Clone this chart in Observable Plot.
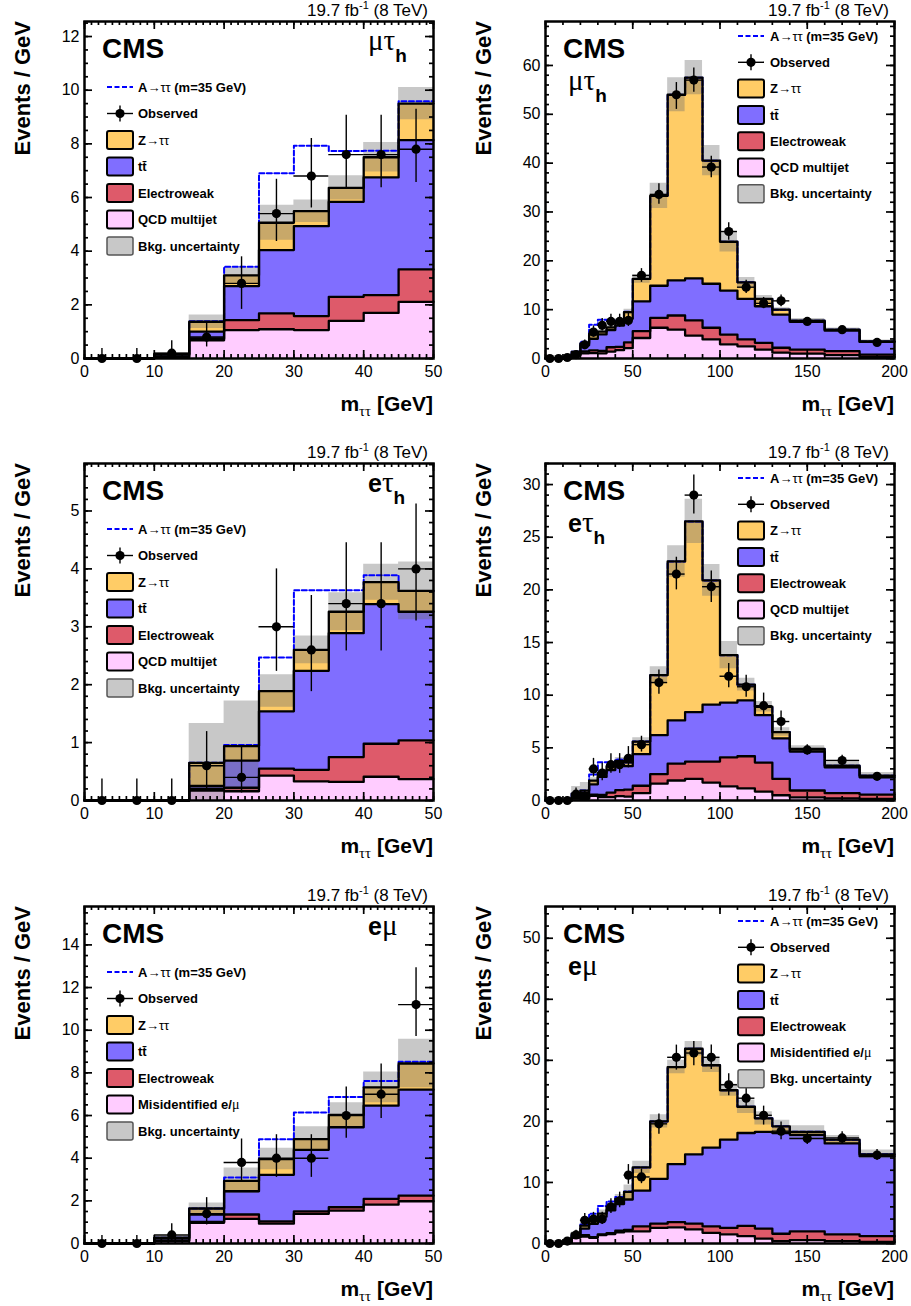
<!DOCTYPE html>
<html>
<head>
<meta charset="utf-8">
<script src="https://cdn.jsdelivr.net/npm/d3@7"></script>
<script src="https://cdn.jsdelivr.net/npm/@observablehq/plot@0.6"></script>
<style>
  html, body { margin: 0; padding: 0; background: #fff; }
  #wrap { position: relative; width: 911px; height: 1306px; background: #fff; }
  .panel { position: absolute; }
</style>
</head>
<body>
<div id="wrap"></div>
<script>
// ---------------- DATA ----------------
// bin edges in GeV (22 bins; the 0-50 GeV panels use the first 10)
const binEdges = [0,5,10,15,20,25,30,35,40,45,50,60,70,80,90,100,110,120,130,140,160,180,200];

// mu tau_h channel (events / GeV per component)
const mtQCD   = [0,0,0.04,0.68,1.06,1.09,1.06,1.40,1.70,2.11, 4.2,6.3,5.9,4.7,3.9,2.9,2.5,1.8,1.2,1.0,0.7,0.35];
const mtEWK   = [0,0,0.04,0.07,0.37,0.59,0.52,0.90,0.66,1.21, 1.4,2.0,2.9,3.1,2.4,2.0,1.4,1.4,1.0,0.8,0.8,0.45];
const mtTT    = [0,0,0.07,0.25,1.27,2.36,3.35,3.54,4.39,4.82, 6.1,6.6,7.2,8.6,9.0,9.0,8.3,7.5,6.8,5.7,4.2,2.6];
const mtZTT   = [0,0,0.02,0.37,0.40,1.02,0.56,0.52,0.75,1.36, 4.6,18.4,38.0,41.1,25.2,10.0,3.4,1.5,1.0,0.25,0.2,0.1];
const mtUnc   = [0,0,0.03,0.25,0.30,0.65,0.42,0.45,0.55,0.60, 0.9,2.6,3.5,3.5,3.1,2.1,1.0,0.7,0.4,0.45,0.35,0.3];
const mtSig   = [0,0,0,0.02,0.32,1.84,2.44,1.37,0.24,0.09, 0,0,0,0,0,0,0,0,0,0,0,0];
const mtObs   = [0,0,0.2,0.8,2.8,5.4,6.8,7.6,7.6,7.8, 17.0,33.6,54.0,57.0,39.2,26.0,14.6,11.3,11.8,7.6,5.9,3.3];
const mtObsLo = [0,0,0.03,0.43,1.83,4.36,5.61,6.36,6.36,6.56, 15.6,31.6,51.0,54.5,37.0,24.2,13.3,10.2,10.6,7.0,5.4,2.9];
const mtObsHi = [0.37,0.37,0.66,1.33,3.79,6.68,8.2,9.07,9.07,9.29, 18.4,35.8,56.5,59.5,41.4,27.8,16.0,12.5,13.0,8.2,6.4,3.7];

// e tau_h channel
const etQCD   = [0,0,0,0.17,0.16,0.43,0.33,0.32,0.41,0.37, 0.7,1.6,1.9,2.05,1.7,1.35,1.15,0.85,0.5,0.3,0.2,0.15];
const etEWK   = [0,0,0,0.03,0.06,0.12,0.20,0.43,0.57,0.67, 0.7,0.9,1.6,1.65,2.0,2.75,3.05,2.75,1.55,0.65,0.5,0.4];
const etTT    = [0,0,0,0.05,0.47,0.99,1.71,2.14,2.41,2.22, 3.0,3.7,4.1,4.7,5.4,5.2,5.3,4.5,3.85,3.7,2.45,1.65];
const etZTT   = [0,0,0,0.40,0.25,0.35,0.36,0.37,0.38,0.36, 1.2,5.7,15.1,18.1,11.8,4.5,1.5,0.8,0.6,0.25,0.15,0.15];
const etUnc   = [0,0,0,0.68,0.78,0.28,0.24,0.33,0.31,0.50, 0.35,0.8,1.5,2.1,1.5,1.3,0.6,0.5,0.4,0.3,0.3,0.3];
const etSig   = [0,0,0,0,0.02,0.58,1.03,0.37,0.12,0, 0,0,0,0,0,0,0,0,0,0,0,0];
const etObs   = [0,0,0,0.6,0.4,3.0,2.6,3.4,3.4,4.0, 5.3,11.2,21.5,29.0,20.3,11.8,10.8,9.0,7.5,4.8,3.8,2.3];
const etObsLo = [0,0,0,0.2,0.13,2.23,1.88,2.58,2.58,3.1, 4.6,10.1,20.0,27.2,18.8,10.7,9.8,8.0,6.6,4.3,3.3,2.0];
const etObsHi = [0.37,0.37,0.37,1.19,0.92,4.0,3.54,4.45,4.45,5.12, 6.1,12.4,23.1,30.9,21.8,13.0,11.9,10.2,8.5,5.3,4.3,2.6];

// e mu channel (4th component = misidentified e/mu)
const emMis   = [0,0,0.1,0.97,1.15,0.93,1.39,1.54,1.82,1.98, 2.0,2.55,2.65,2.3,1.75,1.5,1.2,0.8,0.4,0.55,0.4,0.25];
const emEWK   = [0,0,0.05,0.04,0.21,0.11,0.12,0.16,0.27,0.26, 0.8,0.7,0.85,0.95,1.05,1.05,1.7,1.65,1.2,1.45,1.1,0.95];
const emTT    = [0,0,0.1,0.35,1.09,2.18,2.88,3.75,4.37,4.97, 5.85,7.35,9.5,11.35,12.9,14.45,15.2,15.85,16.5,15.8,14.9,13.1];
const emZTT   = [0,0,0.02,0.28,0.49,0.74,0.50,0.58,0.86,1.23, 3.81,9.4,15.9,17.3,13.5,8.1,4.3,2.2,1.1,0.5,0.6,0.3];
const emUnc   = [0,0,0.08,0.26,0.60,0.50,0.58,0.57,0.72,1.14, 1.0,1.1,1.1,1.2,1.2,1.0,1.1,1.1,1.0,1.0,0.7,0.7];
const emSig   = [0,0,0,0,0.16,0.93,1.25,0.84,0.30,0.08, 0,0,0,0,0,0,0,0,0,0,0,0];
const emObs   = [0,0,0.4,1.4,3.8,4.0,4.0,6.0,7.0,11.2, 10.9,19.6,30.5,31.2,30.5,26.0,23.8,21.0,18.4,17.2,17.3,14.5];
const emObsLo = [0,0,0.07,0.87,2.91,3.1,3.1,4.93,5.86,9.7, 9.8,17.9,28.4,29.1,28.5,24.2,22.1,19.4,17.0,16.2,16.3,13.6];
const emObsHi = [0.37,0.37,0.93,2.15,4.9,5.1,5.1,7.34,8.41,12.93, 12.2,21.2,32.5,33.1,32.5,27.8,25.5,22.5,19.9,18.2,18.3,15.4];

// ---------------- STYLE / LAYOUT ----------------
const SANS = "'Liberation Sans', Arial, Helvetica, sans-serif";
const SERIF = "'Liberation Serif', 'DejaVu Serif', serif";
const colors = {bkg4: "#ffccff", ewk: "#de5a6a", tt: "#806eff", ztt: "#ffcc66", band: "#6f6f6f", sig: "#0000ff"};

const channels = {
  mt: {bkg4: mtQCD, ewk: mtEWK, tt: mtTT, ztt: mtZTT, unc: mtUnc, sig: mtSig, obs: mtObs, obsLo: mtObsLo, obsHi: mtObsHi,
       label: [["μτ","greek"],["h","sub"]], bkg4Label: [["QCD multijet","b"]]},
  et: {bkg4: etQCD, ewk: etEWK, tt: etTT, ztt: etZTT, unc: etUnc, sig: etSig, obs: etObs, obsLo: etObsLo, obsHi: etObsHi,
       label: [["e","bold"],["τ","greek"],["h","sub"]], bkg4Label: [["QCD multijet","b"]]},
  em: {bkg4: emMis, ewk: emEWK, tt: emTT, ztt: emZTT, unc: emUnc, sig: emSig, obs: emObs, obsLo: emObsLo, obsHi: emObsHi,
       label: [["e","bold"],["μ","greek"]], bkg4Label: [["Misidentified e/","b"],["μ","g"]]}
};

const panels = [
  {ch:"mt", side:"left",  row:0, nb:10, xmax:50,  xMaj:10, xMin:1,  ymax:12.56, yMaj:2,  yMin:0.5},
  {ch:"mt", side:"right", row:0, nb:22, xmax:200, xMaj:50, xMin:10, ymax:69,    yMaj:10, yMin:2},
  {ch:"et", side:"left",  row:1, nb:10, xmax:50,  xMaj:10, xMin:1,  ymax:5.82,  yMaj:1,  yMin:0.2},
  {ch:"et", side:"right", row:1, nb:22, xmax:200, xMaj:50, xMin:10, ymax:32,    yMaj:5,  yMin:1},
  {ch:"em", side:"left",  row:2, nb:10, xmax:50,  xMaj:10, xMin:1,  ymax:15.8,  yMaj:2,  yMin:0.5},
  {ch:"em", side:"right", row:2, nb:22, xmax:200, xMaj:50, xMin:10, ymax:55.2,  yMaj:10, yMin:2}
];
const rowTops = [0, 442, 885];

function tickValues(max, step) {
  const n = Math.floor(max / step + 1e-6);
  return d3.range(n + 1).map(i => +(i * step).toFixed(6));
}

function addRich(textSel, parts, base) {
  let shift = 0;
  parts.forEach(([t, kind]) => {
    const sp = textSel.append("tspan").text(t);
    let target = 0;
    if (kind === "b" || kind === "bold") { sp.attr("font-weight", "bold").attr("font-family", SANS); if (base) sp.attr("font-size", base); }
    if (kind === "n") { sp.attr("font-weight", "normal").attr("font-size", base ? base : 13).attr("font-family", SANS); }
    if (kind === "g") { sp.attr("font-weight", "normal").attr("font-family", SERIF).attr("font-size", base ? base + 1 : 14); }
    if (kind === "greek") { sp.attr("font-weight", "normal").attr("font-family", SERIF).attr("font-size", 29); }
    if (kind === "sub") { sp.attr("font-weight", "bold").attr("font-family", SANS).attr("font-size", 19); target = 12; }
    if (kind === "bold" && !base) sp.attr("font-size", 25);
    if (target !== shift) { sp.attr("dy", target - shift); shift = target; }
  });
}

function render(p) {
  const ch = channels[p.ch];
  const left = p.side === "left";
  const W = left ? 455 : 456, ML = left ? 84 : 90, MR = left ? 22 : 17;
  const H = 420, MT = 21, MB = 62;
  const FH = H - MT - MB, FW = W - ML - MR;

  const bins = d3.range(p.nb).map(i => {
    const c1 = ch.bkg4[i], c2 = c1 + ch.ewk[i], c3 = c2 + ch.tt[i], c4 = c3 + ch.ztt[i];
    return {lo: binEdges[i], hi: binEdges[i + 1], mid: (binEdges[i] + binEdges[i + 1]) / 2,
            c: [0, c1, c2, c3, c4], unc: ch.unc[i], sigTot: c4 + ch.sig[i],
            obs: ch.obs[i], obsLo: ch.obsLo[i], obsHi: ch.obsHi[i]};
  });
  const pts = bins.flatMap(b => [{...b, x: b.lo}, {...b, x: b.hi}]);

  const fills = [colors.bkg4, colors.ewk, colors.tt, colors.ztt];
  const marks = [];
  fills.forEach((col, k) => marks.push(Plot.area(pts, {x1: "x", y1: d => d.c[k], y2: d => d.c[k + 1], fill: col})));
  marks.push(Plot.area(pts, {x1: "x", y1: d => Math.max(0, d.c[4] - d.unc), y2: d => d.c[4] + d.unc, fill: colors.band, fillOpacity: 0.38}));
  marks.push(Plot.line(pts, {x: "x", y: "sigTot", stroke: colors.sig, strokeWidth: 2, strokeDasharray: "5,2.5"}));
  [1, 2, 3, 4].forEach(k => marks.push(Plot.line(pts, {x: "x", y: d => d.c[k], stroke: "black", strokeWidth: 2.3})));
  marks.push(Plot.ruleY(bins, {y: "obs", x1: "lo", x2: "hi", stroke: "black", strokeWidth: 1.4}));
  marks.push(Plot.ruleX(bins, {x: "mid", y1: "obsLo", y2: "obsHi", stroke: "black", strokeWidth: 1.4}));
  marks.push(Plot.dot(bins, {x: "mid", y: "obs", r: 4.6, fill: "black", stroke: "none"}));

  const xMajor = tickValues(p.xmax, p.xMaj), xMinor = tickValues(p.xmax, p.xMin);
  const yMajor = tickValues(p.ymax, p.yMaj), yMinor = tickValues(p.ymax, p.yMin);
  const tk = {stroke: "black", strokeWidth: 1.7};
  marks.push(Plot.ruleX(xMinor, {x: d => d, insetTop: FH - 4, ...tk}));
  marks.push(Plot.ruleX(xMinor, {x: d => d, insetBottom: FH - 4, ...tk}));
  marks.push(Plot.ruleX(xMajor, {x: d => d, insetTop: FH - 8, ...tk}));
  marks.push(Plot.ruleX(xMajor, {x: d => d, insetBottom: FH - 8, ...tk}));
  marks.push(Plot.ruleY(yMinor, {y: d => d, insetRight: FW - 4, ...tk}));
  marks.push(Plot.ruleY(yMinor, {y: d => d, insetLeft: FW - 4, ...tk}));
  marks.push(Plot.ruleY(yMajor, {y: d => d, insetRight: FW - 8, ...tk}));
  marks.push(Plot.ruleY(yMajor, {y: d => d, insetLeft: FW - 8, ...tk}));
  marks.push(Plot.text(xMajor, {x: d => d, text: d => String(d), frameAnchor: "bottom", lineAnchor: "bottom", dy: 18, fontSize: 16}));
  marks.push(Plot.text(yMajor, {y: d => d, text: d => String(d), frameAnchor: "left", textAnchor: "end", lineAnchor: "middle", dx: -5, fontSize: 16}));
  marks.push(Plot.frame({stroke: "black", strokeWidth: 2.5}));

  const svgEl = Plot.plot({
    width: W, height: H,
    marginLeft: ML, marginRight: MR, marginTop: MT, marginBottom: MB,
    x: {domain: [0, p.xmax], axis: null},
    y: {domain: [0, p.ymax], axis: null},
    style: {background: "white", fontFamily: SANS, overflow: "visible", color: "black"},
    marks
  });

  const s = d3.select(svgEl);
  const fx = ML, fy = MT, fr = W - MR, fb = H - MB;

  // luminosity label
  const lumi = s.append("text").attr("x", fr - 5).attr("y", fy - 5).attr("text-anchor", "end")
    .attr("font-size", 17).attr("font-family", SANS).attr("fill", "black");
  lumi.append("tspan").text("19.7 fb");
  lumi.append("tspan").attr("font-size", 11).attr("dy", -7).text("-1");
  lumi.append("tspan").attr("dy", 7).text(" (8 TeV)");

  // CMS
  s.append("text").attr("x", fx + 18).attr("y", fy + 37).attr("text-anchor", "start").attr("font-size", 28).attr("font-weight", "bold")
    .attr("font-family", SANS).attr("fill", "black").text("CMS");

  // channel label
  const chT = s.append("text").attr("x", left ? fx + 284 : fx + 23).attr("y", left ? fy + 29 : fy + 69)
    .attr("text-anchor", "start").attr("font-family", SANS).attr("fill", "black");
  addRich(chT, ch.label, null);

  // x axis title
  const xl = s.append("text").attr("x", fr).attr("y", fb + 53).attr("text-anchor", "end")
    .attr("font-size", 21).attr("font-weight", "bold").attr("font-family", SANS).attr("fill", "black");
  xl.append("tspan").text("m");
  xl.append("tspan").attr("font-size", 15).attr("font-weight", "normal").attr("font-family", SERIF).attr("dy", 5).text("ττ");
  xl.append("tspan").attr("dy", -5).text(" [GeV]");

  // y axis title
  s.append("text").attr("transform", `translate(${fx - 54},${fy}) rotate(-90)`).attr("text-anchor", "end")
    .attr("font-size", 22).attr("font-weight", "bold").attr("font-family", SANS).attr("fill", "black").text("Events / GeV");

  // legend
  const L = left ? {bx: fx + 23, tx: fx + 54, y0: fy + 66, dy: 26.5} : {bx: fx + 193, tx: fx + 225, y0: fy + 15, dy: 26.3};
  const entries = [
    {kind: "sig", parts: [["A","b"],["→ττ","n"],[" (m=35 GeV)","b"]]},
    {kind: "obs", parts: [["Observed","b"]]},
    {kind: "box", fill: colors.ztt, parts: [["Z","b"],["→ττ","n"]]},
    {kind: "box", fill: colors.tt, parts: [["tt\u0304","b"]]},
    {kind: "box", fill: colors.ewk, parts: [["Electroweak","b"]]},
    {kind: "box", fill: colors.bkg4, parts: ch.bkg4Label},
    {kind: "unc", parts: [["Bkg. uncertainty","b"]]}
  ];
  const lg = s.append("g");
  entries.forEach((e, i) => {
    const y = L.y0 + i * L.dy;
    if (e.kind === "sig") {
      lg.append("line").attr("x1", L.bx).attr("x2", L.bx + 26).attr("y1", y).attr("y2", y)
        .attr("stroke", colors.sig).attr("stroke-width", 2).attr("stroke-dasharray", "5,2.5");
    } else if (e.kind === "obs") {
      lg.append("line").attr("x1", L.bx).attr("x2", L.bx + 26).attr("y1", y).attr("y2", y).attr("stroke", "black").attr("stroke-width", 1.4);
      lg.append("line").attr("x1", L.bx + 13).attr("x2", L.bx + 13).attr("y1", y - 8).attr("y2", y + 8).attr("stroke", "black").attr("stroke-width", 1.4);
      lg.append("circle").attr("cx", L.bx + 13).attr("cy", y).attr("r", 4.6).attr("fill", "black");
    } else if (e.kind === "box") {
      lg.append("rect").attr("x", L.bx).attr("y", y - 9).attr("width", 26).attr("height", 18).attr("rx", 2)
        .attr("fill", e.fill).attr("stroke", "black").attr("stroke-width", 2);
    } else {
      lg.append("rect").attr("x", L.bx).attr("y", y - 9).attr("width", 26).attr("height", 18).attr("rx", 2)
        .attr("fill", colors.band).attr("fill-opacity", 0.38).attr("stroke", "#555").attr("stroke-width", 1.5);
    }
    const t = lg.append("text").attr("x", L.tx).attr("y", y).attr("dy", "0.36em").attr("text-anchor", "start")
      .attr("font-size", 13).attr("font-family", SANS).attr("fill", "black");
    addRich(t, e.parts, 13);
  });

  const div = document.createElement("div");
  div.className = "panel";
  div.style.left = (left ? 0 : 455) + "px";
  div.style.top = rowTops[p.row] + "px";
  div.appendChild(svgEl);
  document.getElementById("wrap").appendChild(div);
}

panels.forEach(render);
</script>
</body>
</html>
